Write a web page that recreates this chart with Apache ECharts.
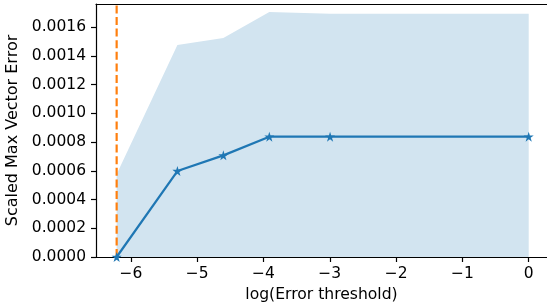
<!DOCTYPE html>
<html>
<head>
<meta charset="utf-8">
<script src="https://cdn.jsdelivr.net/npm/echarts@6/dist/echarts.min.js"></script>
<style>html,body{margin:0;padding:0;background:#fff;}#c{width:547px;height:305px;}</style>
</head>
<body>
<div id="c"></div>
<script>
// log(Error threshold) values
const xValues = [-6.2146, -5.2983, -4.6052, -3.9120, -2.9957, 0];
// mean scaled max vector error
const meanError = [0.0000, 0.000598, 0.000707, 0.000837, 0.000837, 0.000837];
// upper bound of shaded band (lower bound is 0)
const upperBand = [0.000575, 0.001475, 0.001523, 0.001704, 0.001693, 0.001693];
// vertical dashed threshold line
const thresholdX = -6.2146;
const xTicks = [-6, -5, -4, -3, -2, -1, 0];
const yTicks = [0, 0.0002, 0.0004, 0.0006, 0.0008, 0.0010, 0.0012, 0.0014, 0.0016];

const yMax = 0.00176;
const font = 'DejaVu Sans';
const star = 'path://M0,-10 L2.245,-3.09 L9.511,-3.09 L3.633,1.18 L5.878,8.09 L0,3.82 L-5.878,8.09 L-3.633,1.18 L-9.511,-3.09 L-2.245,-3.09 Z';

const chart = echarts.init(document.getElementById('c'), null, {renderer: 'canvas'});
chart.setOption({
  animation: false,
  grid: {left: 96, right: 0, top: 4, bottom: 48, containLabel: false, outerBoundsMode: 'none'},
  xAxis: [{
    type: 'value', min: -6.526, max: 0.276,
    name: 'log(Error threshold)', nameLocation: 'middle', nameGap: 29,
    nameTextStyle: {fontFamily: font, fontSize: 15.6, color: '#000'},
    axisLine: {show: true, onZero: false, lineStyle: {color: '#000', width: 1.2}},
    axisTick: {show: true, length: 5, customValues: xTicks, lineStyle: {color: '#000', width: 1.2}},
    axisLabel: {customValues: xTicks, fontFamily: font, fontSize: 15.5, color: '#000', margin: 9,
      formatter: v => (v < 0 ? '\u2212' + Math.abs(v) : String(v))},
    splitLine: {show: false}
  }, {
    type: 'value', position: 'top', min: -6.526, max: 0.276,
    axisLine: {show: true, onZero: false, lineStyle: {color: '#000', width: 1.2}},
    axisTick: {show: false}, axisLabel: {show: false}, splitLine: {show: false}
  }],
  yAxis: {
    type: 'value', min: 0, max: yMax,
    name: 'Scaled Max Vector Error', nameLocation: 'middle', nameGap: 70, nameRotate: 90,
    nameTextStyle: {fontFamily: font, fontSize: 16, color: '#000'},
    axisLine: {show: true, onZero: false, lineStyle: {color: '#000', width: 1.2}},
    axisTick: {show: true, length: 5, customValues: yTicks, lineStyle: {color: '#000', width: 1.2}},
    axisLabel: {customValues: yTicks, fontFamily: font, fontSize: 15.5, color: '#000', margin: 10,
      formatter: v => v.toFixed(4)},
    splitLine: {show: false}
  },
  series: [
    {
      type: 'line', data: xValues.map((x, i) => [x, upperBand[i]]),
      symbol: 'none', lineStyle: {width: 0}, silent: true,
      areaStyle: {color: '#d2e4f0', opacity: 1, origin: 'start'}, z: 1
    },
    {
      type: 'line', data: [[thresholdX, 0], [thresholdX, yMax]],
      symbol: 'none', lineStyle: {color: '#ff7f0e', width: 2.2, type: [8, 3.6]}, z: 2
    },
    {
      type: 'line', data: xValues.map((x, i) => [x, meanError[i]]),
      symbol: star, symbolSize: 10, clip: false,
      lineStyle: {color: '#1f77b4', width: 2.2}, itemStyle: {color: '#1f77b4'}, z: 3
    }
  ]
});
</script>
</body>
</html>
